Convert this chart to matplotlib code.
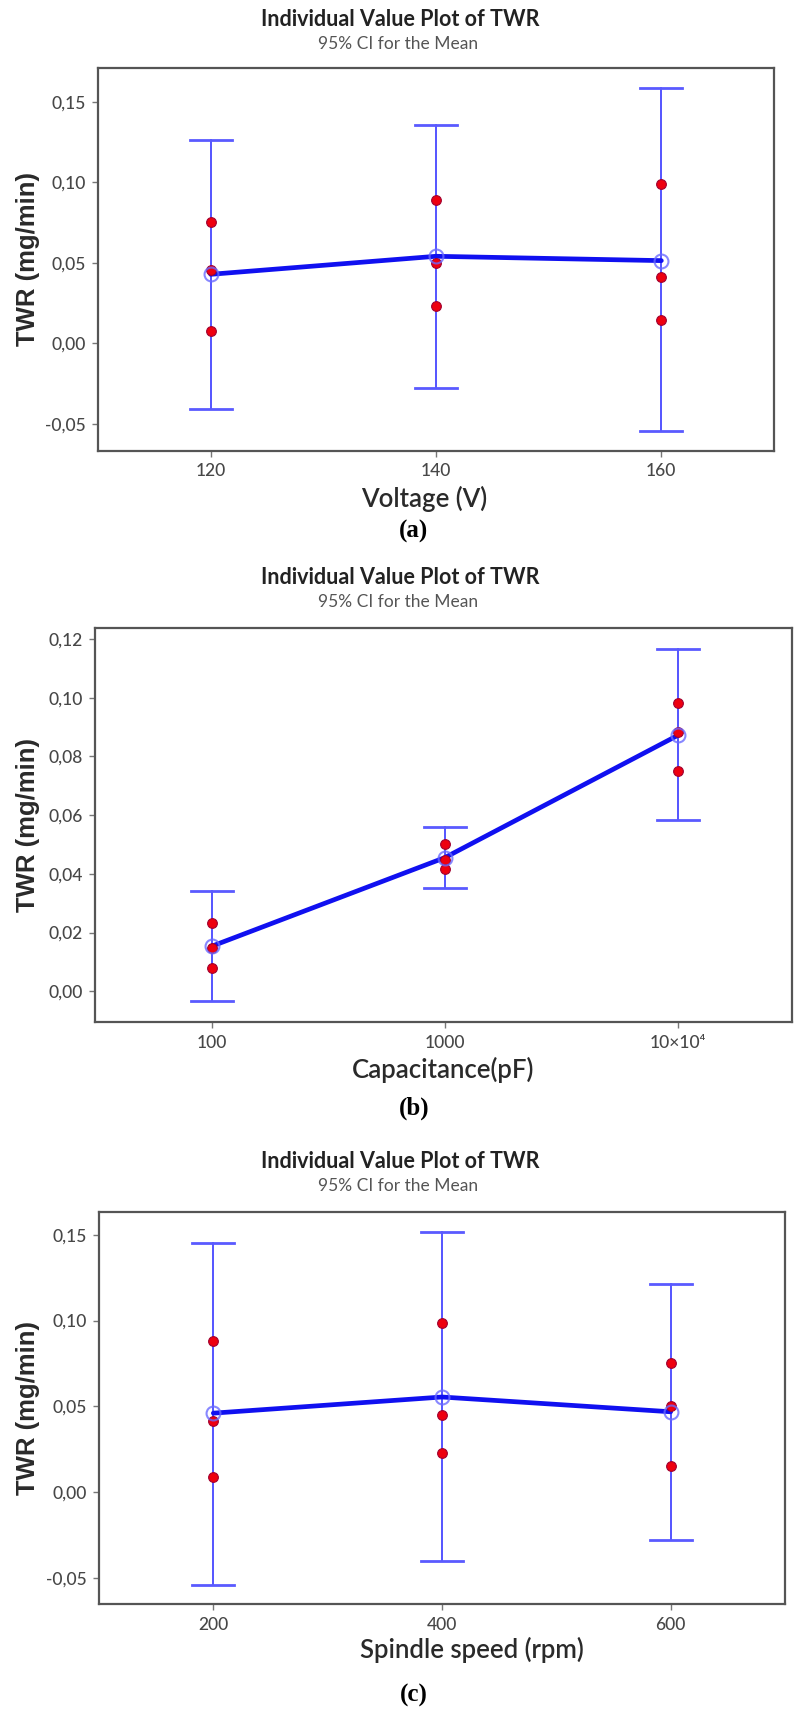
import matplotlib
matplotlib.use("Agg")
import matplotlib.pyplot as plt
from matplotlib.ticker import FuncFormatter, FixedLocator

plt.rcParams['font.family'] = ['Lato', 'DejaVu Sans']

# panel (a): voltage
volt_levels = [120, 140, 160]
volt_points = [[0.0754, 0.0454, 0.0079], [0.0889, 0.0501, 0.0234], [0.0988, 0.0411, 0.0144]]
volt_means = [0.0429, 0.0541, 0.0514]
volt_ci_low = [-0.0407, -0.0279, -0.0546]
volt_ci_high = [0.1260, 0.1359, 0.1584]

# panel (b): capacitance (evenly spaced levels)
cap_labels = ['100', '1000', '10×10⁴']
cap_points = [[0.0233, 0.0146, 0.0079], [0.0501, 0.0448, 0.0416], [0.0982, 0.0884, 0.0749]]
cap_means = [0.0153, 0.0455, 0.0872]
cap_ci_low = [-0.0035, 0.0351, 0.0583]
cap_ci_high = [0.0340, 0.0560, 0.1165]

# panel (c): spindle speed
speed_levels = [200, 400, 600]
speed_points = [[0.0880, 0.0414, 0.0088], [0.0983, 0.0451, 0.0231], [0.0752, 0.0502, 0.0154]]
speed_means = [0.0461, 0.0555, 0.0469]
speed_ci_low = [-0.0539, -0.0400, -0.0279]
speed_ci_high = [0.1452, 0.1513, 0.1214]

W, H = 799, 1711
fig = plt.figure(figsize=(W / 100, H / 100), dpi=100)


def comma_fmt(v, pos):
    v = round(v, 4)
    if v == 0:
        v = 0.0
    return f"{v:.2f}".replace('.', ',')


def panel(box, x, points, means, lo, hi, xlim, ylim, yticks, xticklabels,
          xlabel, xlabel_x, title_y, ticklab_y, letter, letter_y, cap_px=21):
    left, right, top, bottom = box
    ax = fig.add_axes([left / W, 1 - bottom / H, (right - left) / W, (bottom - top) / H])
    # confidence interval bars
    for xi, l, h in zip(x, lo, hi):
        ax.plot([xi, xi], [l, h], color='#4646ff', lw=1.3, zorder=2)
    ax.set_xlim(*xlim)
    ax.set_ylim(*ylim)
    dx = (xlim[1] - xlim[0]) * cap_px / (right - left)
    for xi, l, h in zip(x, lo, hi):
        for yy in (l, h):
            ax.plot([xi - dx, xi + dx], [yy, yy], color='#5a5aff', lw=2.0, zorder=2)
    # mean connect line
    ax.plot(x, means, color='#1010f0', lw=3.4, zorder=3, solid_capstyle='round')
    # individual values
    for xi, pts in zip(x, points):
        ax.plot([xi] * len(pts), pts, 'o', ms=7, color='#ee0010', mec='#a00030', mew=0.8, zorder=4)
    # mean symbols
    ax.plot(x, means, 'o', ms=10, mfc='none', mec='#6a6aff', mew=1.5, alpha=0.8, zorder=5)

    ax.yaxis.set_major_locator(FixedLocator(yticks))
    ax.yaxis.set_major_formatter(FuncFormatter(comma_fmt))
    ax.set_xticks(x)
    ax.set_xticklabels(xticklabels)
    for s in ax.spines.values():
        s.set_color('#555555')
        s.set_linewidth(1.6)
    ax.tick_params(direction='out', length=4, width=1.0, color='#777777',
                   labelcolor='#474747', labelsize=12.5, pad=5)
    for lab in ax.get_xticklabels() + ax.get_yticklabels():
        lab.set_fontweight('medium')

    fig.text(400 / W, 1 - title_y / H, 'Individual Value Plot of TWR', ha='center', va='center',
             fontsize=15.5, fontweight='bold', color='#222222')
    fig.text(398 / W, 1 - (title_y + 25) / H, '95% CI for the Mean', ha='center', va='center',
             fontsize=12.5, color='#555555')
    fig.text(xlabel_x / W, 1 - (ticklab_y + 27) / H, xlabel, ha='center', va='center',
             fontsize=18.5, fontweight='semibold', color='#2a2a2a')
    fig.text(28 / W, 1 - ((top + bottom) / 2) / H, 'TWR (mg/min)', ha='center', va='center',
             rotation=90, fontsize=18.5, fontweight='bold', color='#2a2a2a',
             family=['Liberation Sans', 'DejaVu Sans'])
    fig.text(414 / W, 1 - letter_y / H, letter, ha='center', va='center',
             fontsize=18, fontweight='bold', family=['Liberation Serif', 'DejaVu Serif'])
    return ax


panel((98, 774, 68, 451), volt_levels, volt_points, volt_means, volt_ci_low, volt_ci_high,
      (110, 170), (-0.0668, 0.171), [-0.05, 0.0, 0.05, 0.10, 0.15],
      [str(v) for v in volt_levels], 'Voltage (V)', 424, 19, 472, '(a)', 531)

cap_x = list(range(len(cap_labels)))
panel((95, 792, 628, 1022), cap_x, cap_points, cap_means, cap_ci_low, cap_ci_high,
      (-0.5, 2.49), (-0.0105, 0.1238), [0.0, 0.02, 0.04, 0.06, 0.08, 0.10, 0.12],
      cap_labels, 'Capacitance(pF)', 443, 577, 1043, '(b)', 1108)

panel((99, 785, 1212, 1604), speed_levels, speed_points, speed_means, speed_ci_low, speed_ci_high,
      (100, 700), (-0.065, 0.1632), [-0.05, 0.0, 0.05, 0.10, 0.15],
      [str(v) for v in speed_levels], 'Spindle speed (rpm)', 472, 1161, 1623, '(c)', 1695)

fig.savefig('out.png', dpi=100)
